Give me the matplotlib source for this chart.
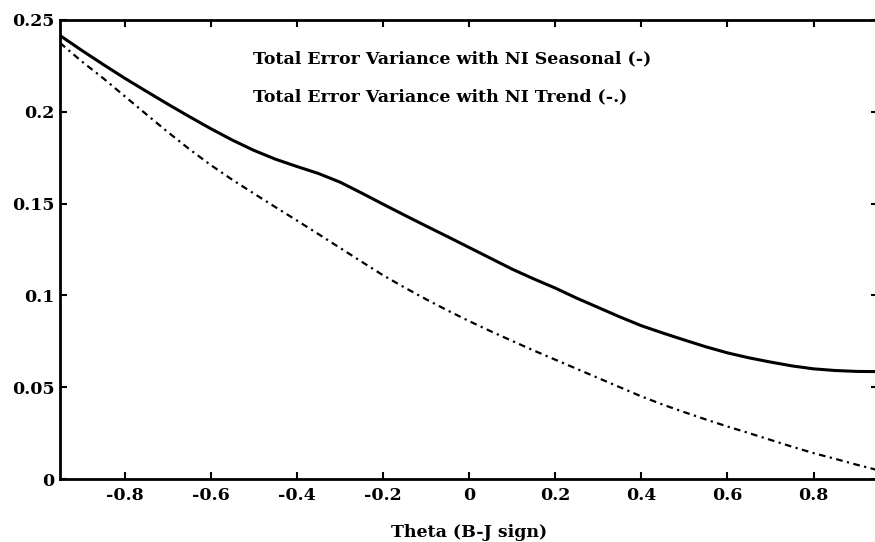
import matplotlib.pyplot as plt
import numpy as np

# theta values (B-J sign convention)
theta = np.array([-0.95, -0.90, -0.85, -0.80, -0.75, -0.70, -0.65, -0.60, -0.55, -0.50,
                  -0.45, -0.40, -0.35, -0.30, -0.25, -0.20, -0.15, -0.10, -0.05, 0.00,
                  0.05, 0.10, 0.15, 0.20, 0.25, 0.30, 0.35, 0.40, 0.45, 0.50,
                  0.55, 0.60, 0.65, 0.70, 0.75, 0.80, 0.85, 0.90, 0.95])

# total error variance with NI seasonal (solid)
seasonal = [0.2415, 0.2335, 0.2258, 0.2183, 0.2112, 0.2042, 0.1974, 0.1908, 0.1846, 0.1790,
            0.1742, 0.1702, 0.1664, 0.1617, 0.1558, 0.1497, 0.1437, 0.1378, 0.1320, 0.1261,
            0.1202, 0.1143, 0.1090, 0.1040, 0.0985, 0.0934, 0.0883, 0.0835, 0.0795, 0.0757,
            0.0720, 0.0687, 0.0660, 0.0637, 0.0616, 0.0600, 0.0591, 0.0586, 0.0585]

# total error variance with NI trend (dash-dot)
trend = [0.2375, 0.2275, 0.2183, 0.2085, 0.1987, 0.1890, 0.1797, 0.1710, 0.1630, 0.1555,
         0.1481, 0.1408, 0.1334, 0.1259, 0.1184, 0.1110, 0.1043, 0.0979, 0.0918, 0.0860,
         0.0805, 0.0752, 0.0700, 0.0650, 0.0600, 0.0550, 0.0500, 0.0450, 0.0405, 0.0364,
         0.0324, 0.0286, 0.0250, 0.0213, 0.0176, 0.0141, 0.0110, 0.0078, 0.0048]

xticks = [-0.8, -0.6, -0.4, -0.2, 0, 0.2, 0.4, 0.6, 0.8]
xticklabels = ['-0.8', '-0.6', '-0.4', '-0.2', '0', '0.2', '0.4', '0.6', '0.8']
yticks = [0, 0.05, 0.1, 0.15, 0.2, 0.25]
yticklabels = ['0', '0.05', '0.1', '0.15', '0.2', '0.25']

plt.rcParams['font.family'] = ['DejaVu Serif']
plt.rcParams['font.weight'] = 'bold'

fig = plt.figure(figsize=(8.75, 5.42), dpi=100)
# right edge of the box falls just outside the picture, as in the scan
ax = fig.add_axes([0.0686, 0.1162, 0.935, 0.847])

ax.plot(theta, seasonal, color='black', lw=2.2, solid_capstyle='butt')
ax.plot(theta, trend, color='black', lw=1.6, dashes=(3, 2, 1, 2))

ax.set_xlim(-0.95, 0.95)
ax.set_ylim(0, 0.25)
ax.set_xticks(xticks)
ax.set_xticklabels(xticklabels)
ax.set_yticks(yticks)
ax.set_yticklabels(yticklabels)
ax.tick_params(direction='in', length=5, width=1.5, top=True, right=True,
               labelsize=12.5, pad=4)
ax.tick_params(axis='x', pad=6)
for s in ax.spines.values():
    s.set_linewidth(2)

ax.text(-0.502, 0.2288, 'Total Error Variance with NI Seasonal (-)', fontsize=12.5,
        fontweight='bold', va='center')
ax.text(-0.502, 0.2081, 'Total Error Variance with NI Trend (-.)', fontsize=12.5,
        fontweight='bold', va='center')

ax.set_xlabel('Theta (B-J sign)', fontsize=12.5, fontweight='bold')
ax.xaxis.set_label_coords(0.5004, -0.097)

fig.savefig('out.png', dpi=100)
